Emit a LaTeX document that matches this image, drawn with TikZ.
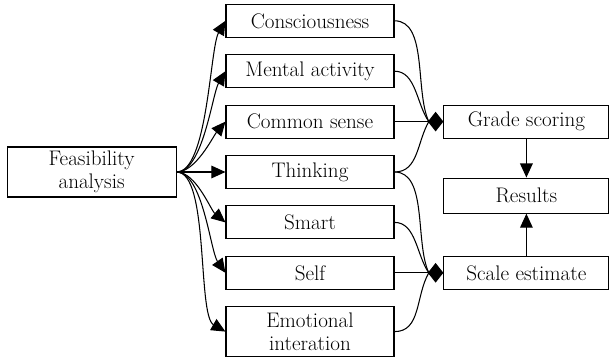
\documentclass[tikz,border=0pt]{standalone}
\usetikzlibrary{arrows.meta}

\begin{document}
\begin{tikzpicture}[>={Triangle[length=10pt,width=9pt]}, line width=0.75pt,
  box/.style={draw, line width=0.8pt, minimum width=4.2cm, minimum height=0.825cm,
    align=center, inner sep=1pt, font=\fontsize{15}{16.5}\selectfont},
  tall/.style={box, minimum height=1.25cm},
  outbox/.style={box, minimum width=4.125cm},
  diam/.style={-{Diamond[length=11pt,width=14pt]}}]
  \useasboundingbox (0,0) rectangle (15.25,9.05);

  % Start
  \node[tall, minimum width=4.225cm] (feas) at (2.29,4.75) {Feasibility\\analysis};

  % Factors
  \node[box] (cons)  at (7.75,8.53) {Consciousness};
  \node[box] (ment)  at (7.75,7.27) {Mental activity};
  \node[box] (comm)  at (7.75,6.01) {Common sense};
  \node[box] (think) at (7.75,4.75) {Thinking};
  \node[box] (smart) at (7.75,3.49) {Smart};
  \node[box] (self)  at (7.75,2.23) {Self};
  \node[tall] (emo)  at (7.75,0.76) {Emotional\\interation};

  % Outcomes
  \node[outbox] (grade) at (13.16,6.01) {Grade scoring};
  \node[outbox, minimum height=0.875cm] (res) at (13.16,4.16) {Results};
  \node[outbox] (scale) at (13.16,2.23) {Scale estimate};

  % Joins
  \coordinate (gj) at (10.72,6.01);
  \coordinate (sj) at (10.72,2.23);

  % Fan out
  \draw[->] (feas.east) to[out=0,in=240,looseness=0.5] (cons.west);
  \draw[->] (feas.east) to[out=0,in=240,looseness=0.6] (ment.west);
  \draw[->] (feas.east) to[out=0,in=230,looseness=0.7] (comm.west);
  \draw[->] (feas.east) -- (think.west);
  \draw[->] (feas.east) to[out=0,in=140,looseness=0.7] (smart.west);
  \draw[->] (feas.east) to[out=0,in=125,looseness=0.6] (self.west);
  \draw[->] (feas.east) to[out=0,in=150,looseness=0.5] (emo.west);

  % Fan in
  \draw (cons.east) to[out=0,in=115,looseness=0.8] (gj);
  \draw (ment.east) to[out=0,in=125,looseness=0.9] (gj);
  \draw (comm.east) -- (gj);
  \draw (think.east) to[out=0,in=240] (gj);
  \draw (think.east) to[out=0,in=115,looseness=0.8] (sj);
  \draw (smart.east) to[out=0,in=125,looseness=0.9] (sj);
  \draw (self.east) -- (sj);
  \draw (emo.east) to[out=0,in=240] (sj);
  \draw[diam] (gj) -- (grade.west);
  \draw[diam] (sj) -- (scale.west);

  % Results
  \draw[->] (grade) -- (res);
  \draw[->] (scale) -- (res);
\end{tikzpicture}
\end{document}
